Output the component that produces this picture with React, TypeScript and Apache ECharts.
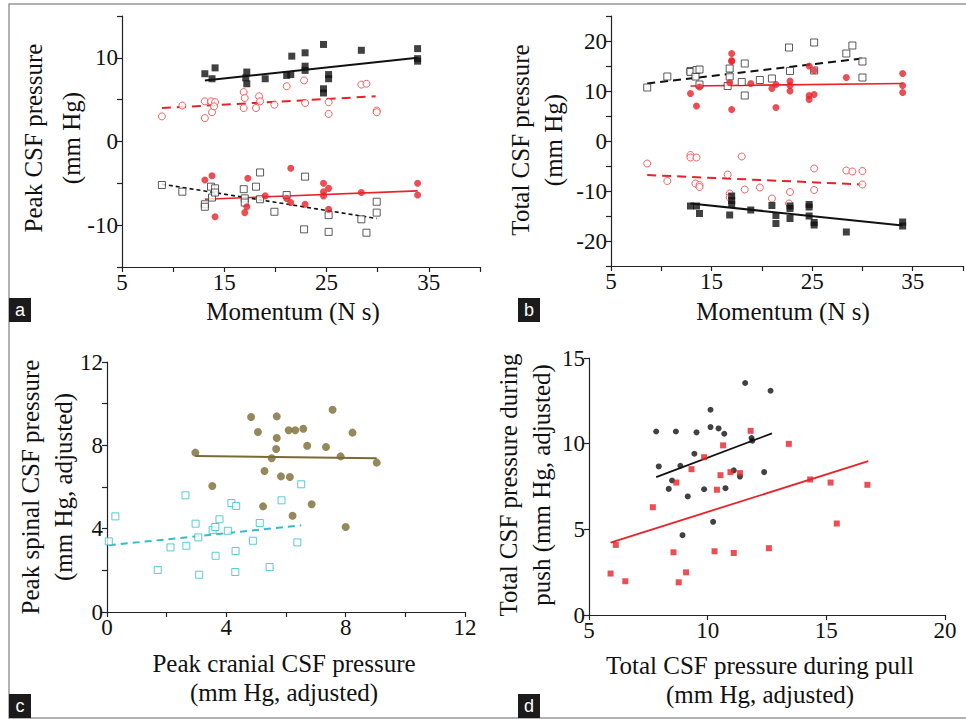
import React, { useEffect, useRef } from 'react';
import * as echarts from 'echarts';

const SERIF = '"Liberation Serif", "Times New Roman", serif';
const SANS = '"Liberation Sans", Arial, sans-serif';

// ---------- Panel a: Peak CSF pressure vs momentum ----------
const aFilledSquares = [
  [13.1, 8.1], [13.8, 7.5], [14.1, 8.8], [17.2, 8.3], [17.1, 7.6], [17.2, 6.9], [19.0, 7.5],
  [21.1, 7.9], [21.6, 10.2], [21.5, 8.0], [22.9, 10.6], [22.9, 9.0], [22.9, 8.5], [24.7, 11.6],
  [24.7, 6.3], [24.7, 5.8], [25.2, 8.0], [25.2, 7.5], [28.4, 10.9], [33.9, 11.1], [33.9, 9.9], [33.9, 9.6],
];
const aFilledSquaresFit = [[13.1, 7.3], [33.9, 10.0]];
const aOpenCircles = [
  [8.9, 3.0], [10.9, 4.3], [13.1, 2.8], [13.1, 4.8], [13.7, 4.8], [13.8, 3.5], [14.1, 4.7], [14.0, 4.2],
  [16.9, 5.9], [17.0, 5.2], [16.9, 4.0], [18.1, 4.0], [18.4, 5.4], [18.5, 4.8], [19.9, 4.4], [21.1, 6.6],
  [22.8, 7.3], [22.9, 4.6], [25.2, 4.7], [25.2, 3.3], [28.4, 6.8], [28.9, 6.9], [29.9, 3.7], [29.9, 3.5],
];
const aOpenCirclesFit = [[8.9, 4.0], [29.8, 5.4]];
const aFilledCircles = [
  [13.1, -4.6], [13.8, -4.1], [14.1, -9.0], [17.0, -8.5], [17.2, -7.8], [17.3, -4.4], [19.0, -6.5],
  [21.1, -6.8], [21.5, -3.2], [21.5, -7.3], [22.9, -7.5], [24.7, -5.0], [24.7, -6.0], [24.7, -6.5],
  [25.2, -5.6], [25.2, -8.1], [28.4, -6.1], [33.9, -5.0], [33.9, -6.4],
];
const aFilledCirclesFit = [[13.1, -6.9], [33.9, -5.9]];
const aOpenSquares = [
  [8.9, -5.2], [10.9, -6.0], [13.1, -7.5], [13.1, -7.8], [13.7, -5.4], [13.8, -6.7], [14.1, -5.6],
  [14.1, -6.1], [16.9, -5.7], [17.0, -6.8], [17.0, -7.3], [18.1, -5.4], [18.5, -3.7], [18.5, -6.9],
  [19.9, -8.4], [21.1, -6.4], [22.8, -10.5], [22.9, -4.2], [25.2, -8.8], [25.2, -10.8], [28.4, -9.3],
  [28.9, -10.9], [29.9, -7.2], [29.9, -8.5],
];
const aOpenSquaresFit = [[8.9, -5.1], [29.9, -9.2]];

// ---------- Panel b: Total CSF pressure vs momentum ----------
const bOpenSquares = [
  [8.6, 10.7], [10.6, 12.9], [12.9, 14.0], [12.9, 13.8], [13.4, 12.9], [13.5, 14.2], [13.8, 14.3],
  [13.8, 11.3], [16.8, 14.5], [16.8, 12.9], [16.6, 11.0], [18.0, 11.8], [18.3, 15.5], [18.3, 9.1],
  [19.8, 12.2], [21.0, 12.5], [22.7, 18.7], [22.8, 14.0], [25.2, 19.7], [25.2, 14.1], [28.4, 17.5],
  [29.0, 19.1], [30.0, 15.9], [30.0, 12.7],
];
const bOpenSquaresFit = [[8.6, 11.5], [30.0, 16.5]];
const bFilledCircles = [
  [12.9, 9.5], [13.5, 7.0], [13.8, 10.8], [17.0, 17.5], [17.0, 16.1], [17.0, 15.9], [16.8, 11.7],
  [17.0, 6.3], [18.9, 11.5], [21.0, 10.5], [21.4, 11.3], [21.4, 6.7], [22.8, 12.0], [22.8, 11.1],
  [22.8, 10.0], [24.7, 15.0], [24.7, 9.1], [24.7, 8.3], [25.2, 14.1], [25.2, 9.3], [28.4, 12.7],
  [34.0, 13.5], [34.0, 11.1], [34.0, 9.7],
];
const bFilledCirclesFit = [[12.9, 11.0], [34.0, 11.5]];
const bOpenCircles = [
  [8.6, -4.5], [10.6, -8.0], [12.9, -2.8], [12.9, -3.3], [13.5, -3.3], [13.4, -8.5], [13.8, -8.8],
  [13.8, -9.2], [16.6, -6.7], [16.8, -10.5], [16.8, -11.3], [18.0, -3.1], [18.3, -9.7], [19.8, -9.3],
  [21.0, -11.5], [22.8, -10.2], [22.7, -12.5], [25.2, -5.5], [25.2, -9.8], [28.4, -5.9], [29.0, -6.1],
  [30.0, -6.0], [30.0, -8.7],
];
const bOpenCirclesFit = [[8.6, -6.8], [30.0, -8.7]];
const bFilledSquares = [
  [12.9, -13.0], [13.5, -13.0], [13.8, -14.5], [16.8, -14.8], [17.0, -11.0], [17.0, -11.9],
  [17.0, -12.7], [18.9, -13.8], [21.0, -12.9], [21.4, -14.9], [21.4, -16.5], [22.8, -13.0],
  [22.8, -13.5], [22.8, -15.5], [24.7, -12.7], [24.7, -13.2], [24.7, -15.0], [25.2, -16.3],
  [25.2, -16.8], [28.4, -18.2], [34.0, -16.2], [34.0, -17.0],
];
const bFilledSquaresFit = [[12.9, -12.5], [34.0, -16.9]];

// ---------- Panel c: spinal vs cranial ----------
const cFilledCircles = [
  [2.96, 7.65], [3.53, 6.05], [4.83, 9.36], [5.06, 8.64], [5.23, 5.07], [5.28, 6.77], [5.52, 7.38],
  [5.67, 7.82], [5.69, 9.39], [5.69, 8.35], [5.83, 6.51], [6.09, 8.72], [6.13, 6.48], [6.22, 4.62],
  [6.31, 8.72], [6.58, 8.8], [6.71, 7.98], [6.86, 5.17], [7.34, 7.92], [7.56, 9.71], [7.83, 7.47],
  [8.0, 4.08], [8.23, 8.61], [9.04, 7.17],
];
const cFilledCirclesFit = [[2.96, 7.49], [9.04, 7.38]];
const cOpenSquares = [
  [0.06, 3.39], [0.28, 4.59], [1.7, 2.02], [2.13, 3.1], [2.63, 5.6], [2.66, 3.18], [2.97, 4.24],
  [3.06, 3.58], [3.09, 1.79], [3.54, 3.94], [3.63, 4.08], [3.64, 2.7], [3.77, 4.45], [4.05, 3.9],
  [4.17, 5.23], [4.31, 2.93], [4.3, 1.92], [4.33, 5.09], [4.89, 3.42], [5.12, 4.27], [5.45, 2.16],
  [5.85, 5.36], [6.38, 3.34], [6.51, 6.13],
];
const cOpenSquaresFit = [[0.06, 3.2], [6.51, 4.16]];

// ---------- Panel d: push vs pull ----------
const dBlackDots = [
  [7.83, 10.71], [7.94, 8.67], [8.36, 7.36], [8.5, 7.85], [8.66, 10.71], [8.85, 8.71], [8.94, 4.66],
  [9.16, 6.92], [9.44, 9.41], [9.53, 10.66], [9.85, 7.34], [10.12, 11.98], [10.12, 10.97], [10.23, 5.44],
  [10.46, 10.89], [10.7, 10.58], [10.75, 7.4], [11.1, 8.44], [11.36, 8.08], [11.58, 13.54], [11.85, 10.33],
  [11.88, 10.17], [12.38, 8.34], [12.65, 13.09],
];
const dBlackDotsFit = [[7.83, 8.05], [12.71, 10.6]];
const dRedSquares = [
  [5.91, 2.42], [6.13, 4.09], [6.53, 1.97], [7.69, 6.29], [8.56, 3.66], [8.68, 7.73], [8.78, 1.91],
  [9.09, 2.49], [9.32, 8.51], [9.85, 9.21], [10.29, 3.72], [10.39, 7.31], [10.54, 8.16], [10.65, 9.9],
  [10.96, 8.34], [11.1, 3.62], [11.36, 8.28], [11.81, 10.75], [12.58, 3.9], [13.42, 9.99], [14.32, 7.91],
  [15.18, 7.73], [15.44, 5.34], [16.73, 7.6],
];
const dRedSquaresFit = [[5.91, 4.23], [16.77, 8.98]];

const RED = '#e82228';
const RED_LIGHT = '#ee3b3b';
const BLACK = '#111111';
const GRAY_SQ = '#333333';
const OLIVE = '#7b6a33';
const CYAN = '#2fbfc9';
const AXIS = '#222222';

function axis(gridIndex: number, min: number, max: number, interval: number, labelBase: number, labelEvery: number) {
  return {
    type: 'value',
    gridIndex,
    min,
    max,
    interval,
    axisLine: { show: true, onZero: false, lineStyle: { color: AXIS, width: 1.2 } },
    axisTick: { show: true, length: 5, lineStyle: { color: AXIS, width: 1.2 } },
    splitLine: { show: false },
    axisLabel: {
      margin: 4,
      color: '#111',
      fontFamily: SERIF,
      fontSize: 23,
      showMinLabel: true,
      showMaxLabel: true,
      formatter: (v: number) => (Math.abs(Math.round(v - labelBase)) % labelEvery === 0 ? String(v) : ''),
    },
  };
}

function scatter(idx: number, data: number[][], symbol: string, size: number, fill: string, border?: string) {
  return {
    type: 'scatter',
    xAxisIndex: idx,
    yAxisIndex: idx,
    data,
    symbol,
    symbolSize: size,
    itemStyle: border
      ? { color: '#ffffff', borderColor: border, borderWidth: 1 }
      : { color: fill },
    z: 3,
  };
}

function fit(idx: number, data: number[][], color: string, width: number, type: any) {
  return {
    type: 'line',
    xAxisIndex: idx,
    yAxisIndex: idx,
    data,
    symbol: 'none',
    lineStyle: { color, width, type },
    z: 2,
  };
}

function text(x: number, y: number, str: string, rotate = false, size = 25) {
  return {
    type: 'text',
    x,
    y,
    rotation: rotate ? Math.PI / 2 : 0,
    style: {
      text: str,
      fill: '#111',
      font: `${size}px ${SERIF}`,
      align: 'center',
      verticalAlign: 'middle',
    },
  };
}

function letterBox(x: number, y: number, letter: string) {
  return [
    { type: 'rect', shape: { x, y, width: 22, height: 24 }, style: { fill: '#1b1b1b' } },
    {
      type: 'text',
      x: x + 11,
      y: y + 12,
      style: { text: letter, fill: '#ffffff', font: `18px ${SANS}`, align: 'center', verticalAlign: 'middle' },
    },
  ];
}

export default function App() {
  const ref = useRef<HTMLDivElement>(null);
  useEffect(() => {
    if (!ref.current) return;
    const chart = echarts.init(ref.current, undefined, { renderer: 'svg' });
    chart.setOption({
      animation: false,
      backgroundColor: '#ffffff',
      grid: [
        { left: 122, top: 16, width: 358, height: 251 },
        { left: 611, top: 16, width: 352, height: 250 },
        { left: 107, top: 362, width: 358, height: 250 },
        { left: 589, top: 358, width: 356, height: 257 },
      ],
      xAxis: [
        axis(0, 5, 40, 5, 5, 10),
        axis(1, 5, 40, 5, 5, 10),
        axis(2, 0, 12, 2, 0, 4),
        axis(3, 5, 20, 5, 5, 5),
      ],
      yAxis: [
        axis(0, -15, 15, 5, 0, 10),
        axis(1, -25, 25, 5, 0, 10),
        axis(2, 0, 12, 2, 0, 4),
        axis(3, 0, 15, 5, 0, 5),
      ],
      series: [
        // a
        fit(0, aFilledSquaresFit, BLACK, 2, 'solid'),
        fit(0, aOpenCirclesFit, RED, 2, [9, 6]),
        fit(0, aFilledCirclesFit, RED, 1.6, 'solid'),
        fit(0, aOpenSquaresFit, BLACK, 1.6, [4, 3]),
        scatter(0, aFilledSquares, 'rect', 7, BLACK),
        scatter(0, aOpenCircles, 'circle', 7, '', RED_LIGHT),
        scatter(0, aOpenSquares, 'rect', 7, '', GRAY_SQ),
        scatter(0, aFilledCircles, 'circle', 7, RED),
        // b
        fit(1, bOpenSquaresFit, BLACK, 2, [8, 5]),
        fit(1, bFilledCirclesFit, RED, 1.6, 'solid'),
        fit(1, bOpenCirclesFit, RED, 2, [9, 6]),
        fit(1, bFilledSquaresFit, BLACK, 2, 'solid'),
        scatter(1, bOpenSquares, 'rect', 7, '', GRAY_SQ),
        scatter(1, bFilledCircles, 'circle', 7, RED),
        scatter(1, bOpenCircles, 'circle', 7, '', RED_LIGHT),
        scatter(1, bFilledSquares, 'rect', 7, BLACK),
        // c
        fit(2, cFilledCirclesFit, OLIVE, 2, 'solid'),
        fit(2, cOpenSquaresFit, CYAN, 2, [7, 5]),
        scatter(2, cFilledCircles, 'circle', 8, OLIVE),
        scatter(2, cOpenSquares, 'rect', 7, '', CYAN),
        // d
        fit(3, dBlackDotsFit, BLACK, 1.8, 'solid'),
        fit(3, dRedSquaresFit, RED, 1.8, 'solid'),
        scatter(3, dBlackDots, 'circle', 6, BLACK),
        scatter(3, dRedSquares, 'rect', 6, RED),
      ],
      graphic: [
        {
          type: 'rect',
          shape: { x: 9, y: 4, width: 980, height: 714 },
          style: { fill: 'none', stroke: '#999999', lineWidth: 1.5 },
          silent: true,
        },
        text(293, 311, 'Momentum (N s)'),
        text(783, 311, 'Momentum (N s)'),
        text(33, 138, 'Peak CSF pressure', true),
        text(71, 138, '(mm Hg)', true),
        text(520, 140, 'Total CSF pressure', true),
        text(553, 140, '(mm Hg)', true),
        text(30, 487, 'Peak spinal CSF pressure', true),
        text(63, 487, '(mm Hg, adjusted)', true),
        text(508, 485, 'Total CSF pressure during', true),
        text(541, 485, 'push (mm Hg, adjusted)', true),
        text(284, 663, 'Peak cranial CSF pressure'),
        text(284, 692, '(mm Hg, adjusted)'),
        text(760, 665, 'Total CSF pressure during pull'),
        text(760, 694, '(mm Hg, adjusted)'),
        ...letterBox(9, 298, 'a'),
        ...letterBox(518, 298, 'b'),
        ...letterBox(9, 694, 'c'),
        ...letterBox(518, 694, 'd'),
      ],
    });
    return () => chart.dispose();
  }, []);
  return (
    <div
      ref={ref}
      style={{ position: 'fixed', left: 0, top: 0, width: 966, height: 719 }}
    />
  );
}
